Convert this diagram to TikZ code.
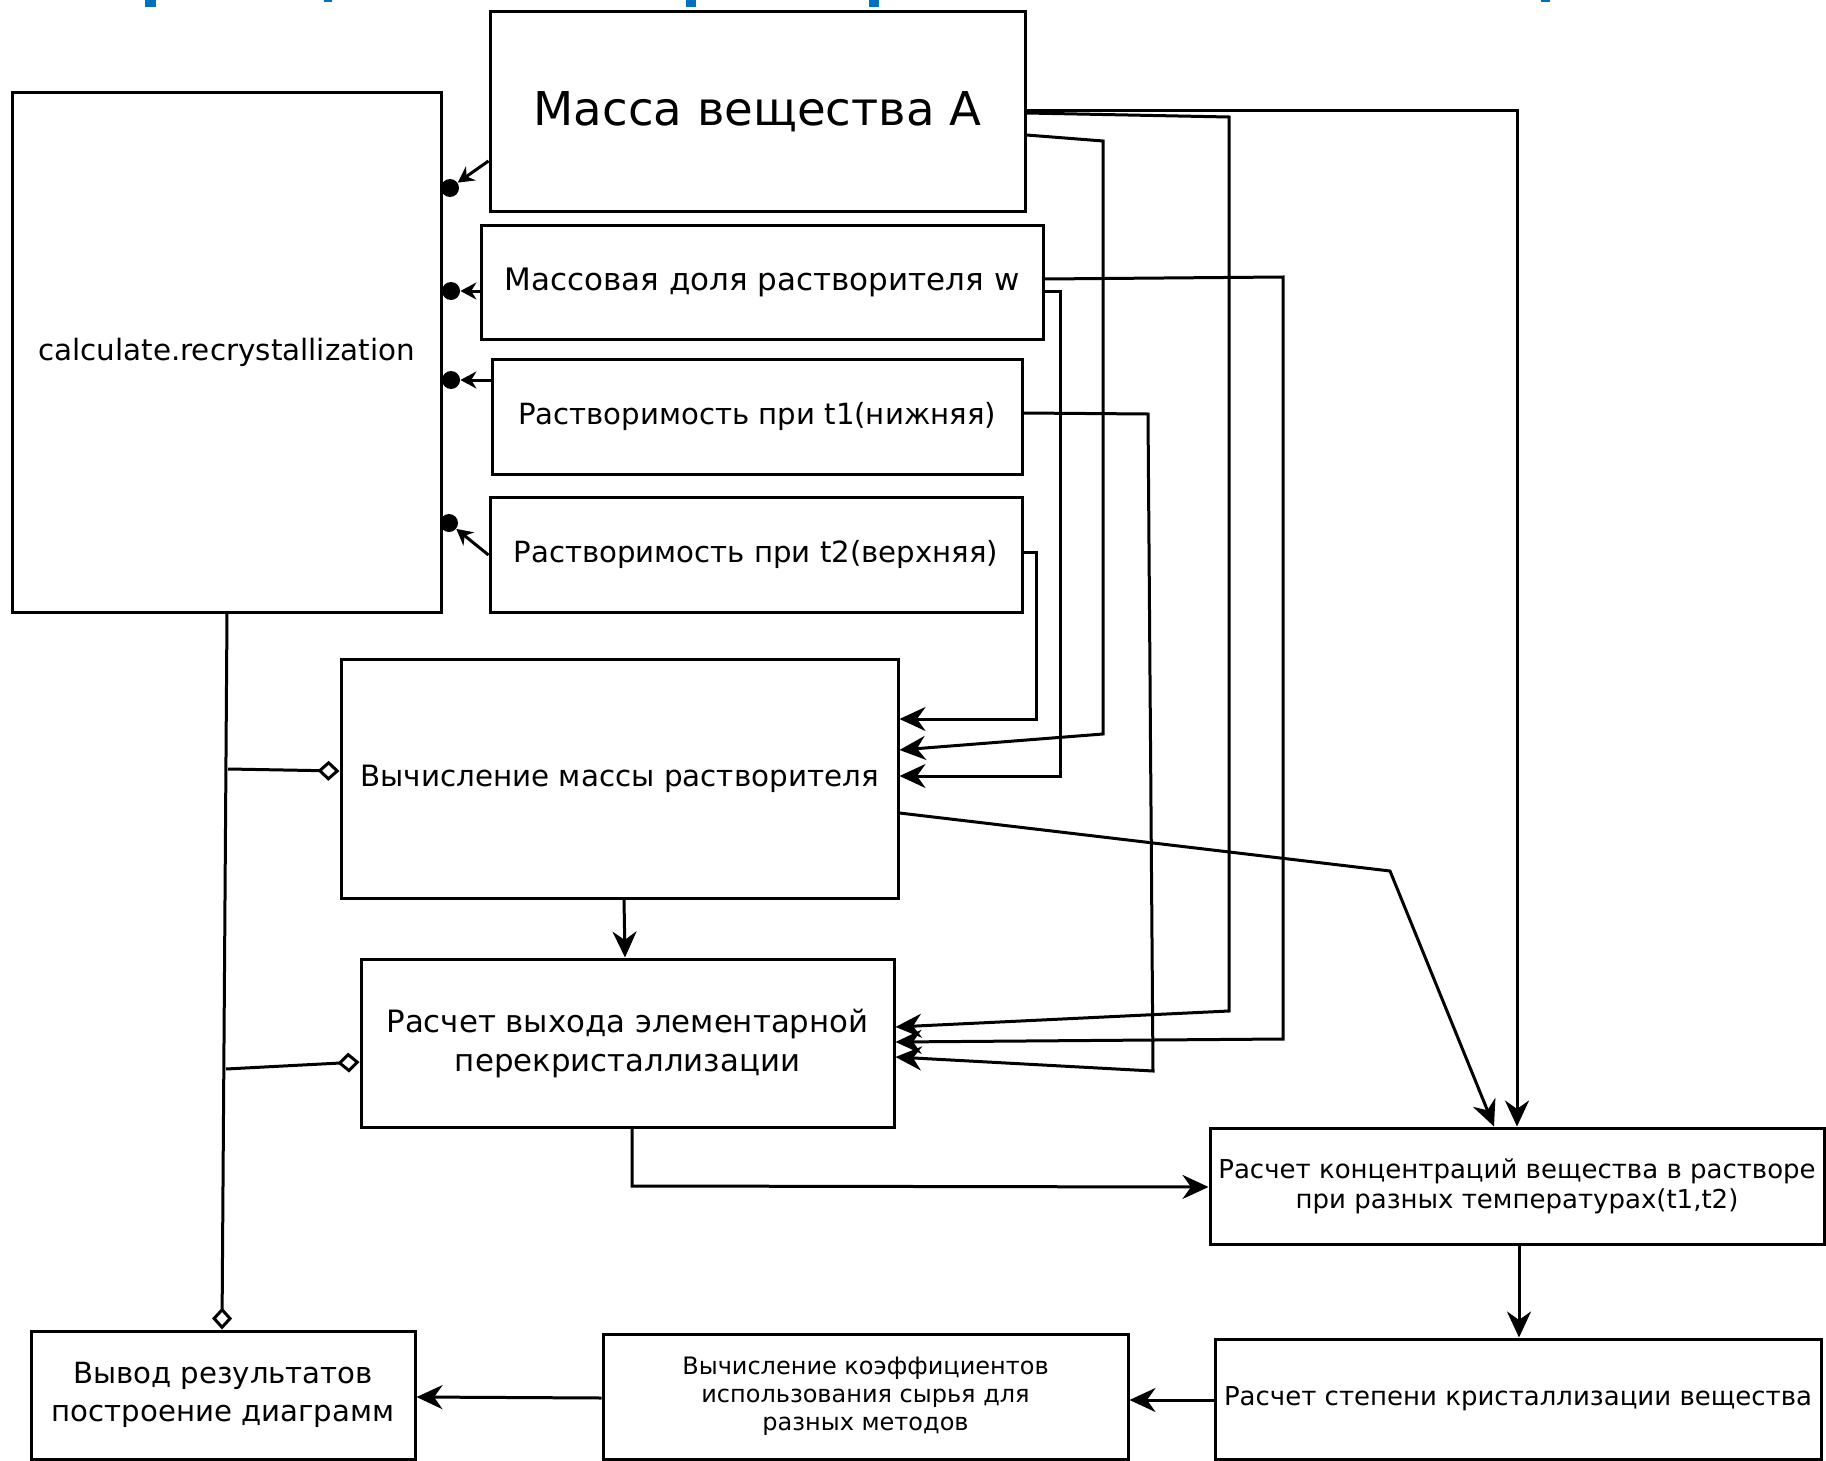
\documentclass[tikz,border=0pt]{standalone}
\usepackage{fontspec}
\setmainfont{DejaVu Sans}
\usetikzlibrary{arrows.meta,shapes.geometric,calc}
\definecolor{hdrblue}{RGB}{0,112,192}
\tikzset{
  blk/.style={draw, line width=1.5pt, inner sep=0pt, align=center},
  con/.style={line width=1.5pt},
  arr/.style={con, -{Stealth[length=13pt,width=12pt]}},
  darr/.style={con, -{Stealth[length=8pt,width=8.5pt]}},
  diaend/.style={con, -{Diamond[open,length=11pt,width=10pt]}},
  portdot/.style={circle, fill, inner sep=0pt, minimum size=9pt}
}
\begin{document}
\begin{tikzpicture}[x=0.5pt,y=-0.5pt]
\useasboundingbox (0,0) rectangle (1826,1461);

% cut-off heading remnants
\fill[hdrblue] (145,0) rectangle (156,7);
\fill[hdrblue] (324,0) rectangle (332,2);
\fill[hdrblue] (686,0) rectangle (696,7);
\fill[hdrblue] (869,0) rectangle (879,7);
\fill[hdrblue] (1541,0) rectangle (1550,2);

% boxes
\node[blk, minimum width=267.5pt, minimum height=99.5pt, font={\fontsize{23.3}{28}\selectfont}] (massA) at (757.5,111.5) {Масса вещества А};
\node[blk, minimum width=281pt, minimum height=57pt, font={\fontsize{15.5}{18}\selectfont}] (wbox) at (762,282) {Массовая доля растворителя w};
\node[blk, minimum width=265pt, minimum height=57.5pt, font={\fontsize{14.6}{17}\selectfont}] (t1) at (757,416.5) {Растворимость при t1(нижняя)};
\node[blk, minimum width=266pt, minimum height=57.5pt, font={\fontsize{14.6}{17}\selectfont}] (t2) at (756,554.5) {Растворимость при t2(верхняя)};
\node[blk, minimum width=214.5pt, minimum height=259.5pt, font={\fontsize{14.7}{17}\selectfont}] (calc) at (226.5,352.5) {calculate.recrystallization};
\node[blk, minimum width=278.5pt, minimum height=119.5pt, font={\fontsize{14.7}{18}\selectfont}] (vm) at (619.5,778.5) {Вычисление массы растворителя};
\node[blk, minimum width=266.5pt, minimum height=84pt, font={\fontsize{15.4}{19.5}\selectfont}] (rv) at (627.5,1043) {Расчет выхода элементарной\\перекристаллизации};
\node[blk, minimum width=307pt, minimum height=58pt, font={\fontsize{13}{15}\selectfont}] (conc) at (1517,1186) {Расчет концентраций вещества в растворе\\при разных температурах(t1,t2)};
\node[blk, minimum width=303pt, minimum height=60pt, font={\fontsize{13}{15}\selectfont}] (step) at (1518,1399) {Расчет степени кристаллизации вещества};
\node[blk, minimum width=262.5pt, minimum height=62.5pt, font={\fontsize{12}{14}\selectfont}] (koef) at (865.5,1396.5) {Вычисление коэффициентов\\использования сырья для\\разных методов};
\node[blk, minimum width=192pt, minimum height=64pt, font={\fontsize{14.6}{19}\selectfont}] (vyvod) at (223,1395) {Вывод результатов\\построение диаграмм};

% ports on calc
\node[portdot] (d1) at (450,188) {};
\node[portdot] (d2) at (451,291) {};
\node[portdot] (d3) at (451,380) {};
\node[portdot] (d4) at (449,523) {};

\draw[darr] (massA.west |- 0,161) -- (d1);
\draw[darr] (wbox.west |- 0,291) -- (d2);
\draw[darr] (t1.west |- 0,380) -- (d3);
\draw[darr] (t2.west |- 0,555) -- (d4);

% inputs to the calculations
\draw[arr] (massA.east |- 0,111) -| (conc.north);
\draw[arr] (massA.east |- 0,113) -- (1229,117) -- (1229,1011) -- (rv.east |- 0,1027);
\draw[arr] (massA.east |- 0,135) -- (1103,141) -- (1103,734) -- (vm.east |- 0,750);
\draw[arr] (wbox.east |- 0,291) -- (1060,291) -- (1060,776) -- (vm.east |- 0,776);
\draw[arr] (wbox.east |- 0,279) -- (1283,277) -- (1283,1039) -- (rv.east |- 0,1042);
\draw[arr] (t1.east |- 0,413) -- (1148,414) -- (1153,1071) -- (rv.east |- 0,1057);
\draw[arr] (t2.east |- 0,552) -- (1036,552) -- (1036,719) -- (vm.east |- 0,719);
\draw[arr] (vm.east |- 0,813) -- (1390,871) -- (conc.north -| 1494,0);
\draw[arr] (vm.south -| 624,0) -- (rv.north -| 625,0);
\draw[arr] (rv.south -| 632,0) -- (632,1186) -- (conc.west |- 0,1187);
\draw[arr] (conc.south -| 1519,0) -- (step.north -| 1519,0);
\draw[arr] (step.west |- 0,1400) -- (koef.east |- 0,1400);
\draw[arr] (koef.west |- 0,1398) -- (vyvod.east |- 0,1397);

% aggregation links
\coordinate (j1) at (228,769);
\coordinate (j2) at (226,1069);
\draw[diaend] (calc.south -| 227,0) -- (vyvod.north -| 222,0);
\draw[diaend] (j1) -- (vm.west |- 0,771);
\draw[diaend] (j2) -- (rv.west |- 0,1062);
\end{tikzpicture}
\end{document}
